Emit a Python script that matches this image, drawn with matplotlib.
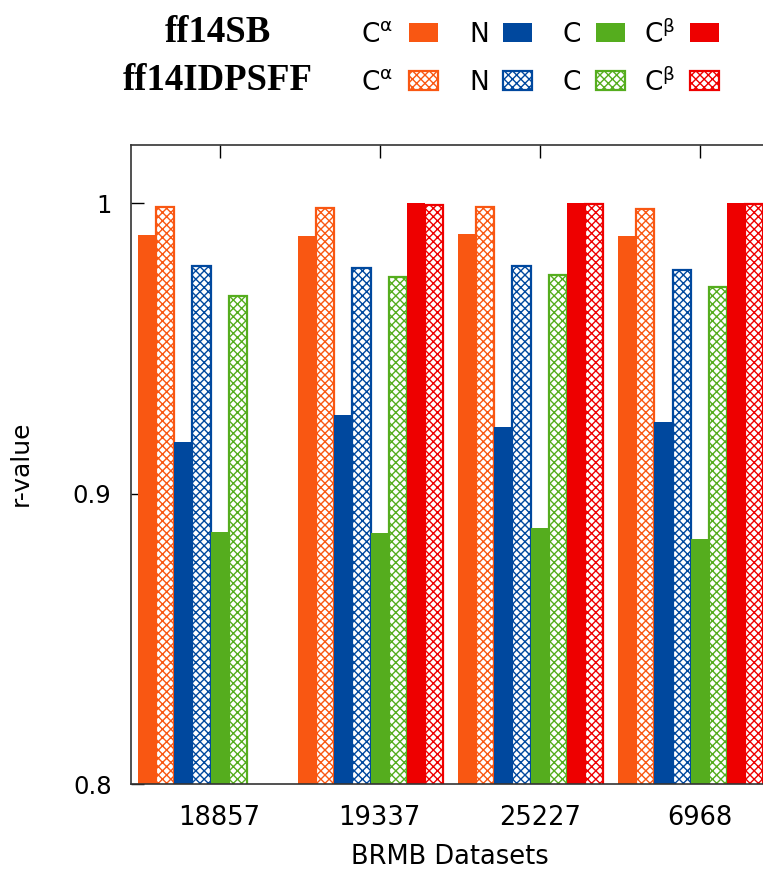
import numpy as np
import matplotlib.pyplot as plt
from matplotlib.patches import Rectangle

datasets = ['18857', '19337', '25227', '6968']
atom_labels = [r'C$^{\mathregular{\alpha}}$', 'N', 'C', r'C$^{\mathregular{\beta}}$']
colors = ['#f95712', '#00489e', '#55ad1e', '#ee0000']

# r-values: one row per atom (Ca, N, C, Cb), one column per dataset
ff14sb = [
    [0.9891, 0.9886, 0.9892, 0.9886],
    [0.9177, 0.9269, 0.9228, 0.9245],
    [0.8867, 0.8865, 0.8883, 0.8845],
    [np.nan, 0.9999, 0.9999, 0.9999],
]
ff14idpsff = [
    [0.9985, 0.9983, 0.9985, 0.9981],
    [0.9784, 0.9776, 0.9783, 0.9769],
    [0.9679, 0.9747, 0.9751, 0.9711],
    [np.nan, 0.9992, 0.9997, 0.9997],
]

W, H = 763, 872
plt.rcParams['font.family'] = 'DejaVu Sans'
plt.rcParams['hatch.linewidth'] = 1.0

fig = plt.figure(figsize=(W / 100, H / 100), dpi=100)

def fx(x):
    return x / W

def fy(y):
    return 1 - y / H

# axes runs past the right edge of the picture, like the cropped original
ax = fig.add_axes([fx(131), fy(784), fx(830 - 131), (784 - 145) / H])

step = 8.83
starts = np.arange(len(datasets)) * step
for i, s in enumerate(starts):
    for a in range(4):
        v1 = ff14sb[a][i]
        v2 = ff14idpsff[a][i]
        if not np.isnan(v1):
            ax.bar(s + 2 * a, v1, width=1, align='edge', color=colors[a],
                   edgecolor='none', zorder=2)
        if not np.isnan(v2):
            ax.bar(s + 2 * a + 1, v2, width=1, align='edge', facecolor='white',
                   edgecolor=colors[a], hatch='xxxx', linewidth=1.6, zorder=2)

ax.set_xlim((131 - 138) / 18.125, (830 - 138) / 18.125)
ax.set_ylim(0.8, 1.02)
ax.set_yticks([0.8, 0.9, 1.0])
ax.set_yticklabels(['0.8', '0.9', '1'])
ax.set_xticks(starts + 4.5)
ax.set_xticklabels(datasets)
ax.tick_params(axis='x', bottom=False, top=True, direction='in', length=9.5,
               width=1, labelsize=18.5, pad=15)
ax.tick_params(axis='y', left=True, right=False, direction='in', length=9.5,
               width=1, labelsize=17.5, pad=14)
for sp in ax.spines.values():
    sp.set_color('#333333')
    sp.set_linewidth(1.2)
    sp.set_zorder(3)

fig.text(fx(450), fy(857), 'BRMB Datasets', ha='center', va='center', fontsize=18.5)
fig.text(fx(21), fy(463), 'r-value', ha='center', va='center', rotation=90,
         fontsize=18)

# legend drawn by hand at the top
rows = [('ff14SB', 33, False), ('ff14IDPSFF', 81, True)]
text_x = [361, 469, 563, 644]
box_x = [409, 503, 596, 690]
for title, yc, hatched in rows:
    fig.text(fx(218), fy(yc), title, ha='center', va='center',
             fontsize=26.5, fontweight='bold', family='Liberation Serif')
    for a in range(4):
        fig.text(fx(text_x[a]), fy(yc + 2), atom_labels[a], ha='left',
                 va='center', fontsize=19)
        if hatched:
            r = Rectangle((fx(box_x[a]), fy(yc + 9)), fx(29), 19 / H,
                          transform=fig.transFigure, facecolor='white',
                          edgecolor=colors[a], hatch='xxxx', linewidth=1.6)
        else:
            r = Rectangle((fx(box_x[a]), fy(yc + 9)), fx(29), 19 / H,
                          transform=fig.transFigure, facecolor=colors[a],
                          edgecolor='none')
        fig.add_artist(r)

fig.savefig('out.png', dpi=100)
